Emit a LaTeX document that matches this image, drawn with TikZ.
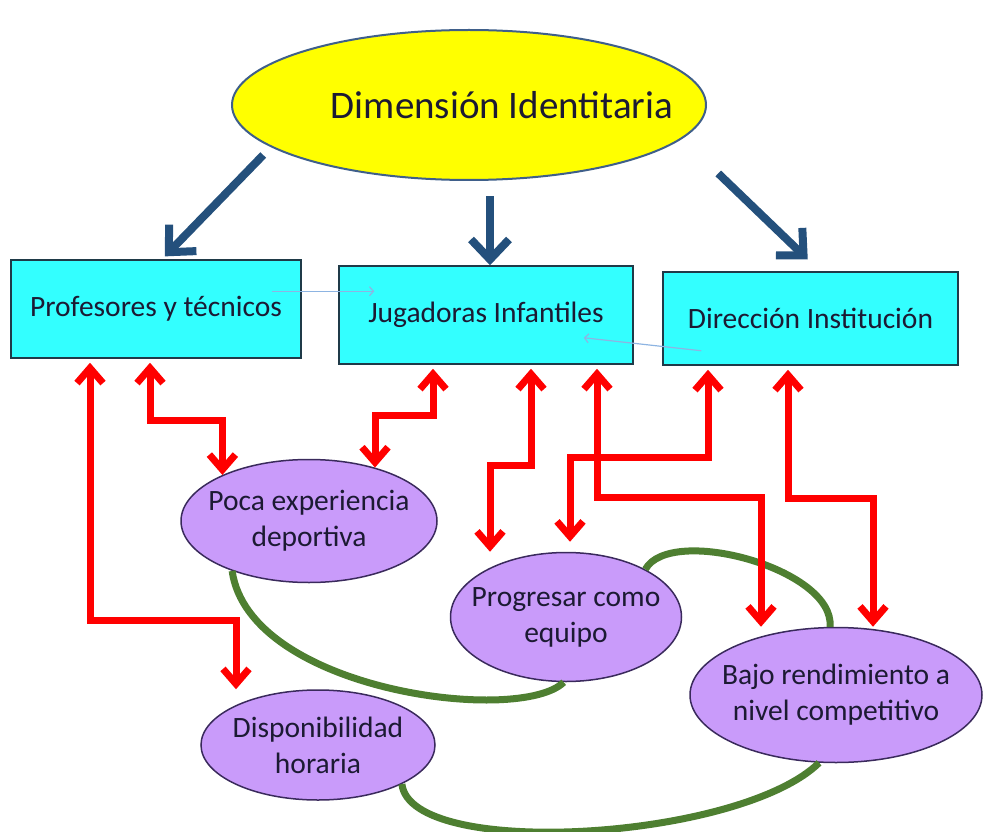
\documentclass[tikz,border=0pt]{standalone}
\usepackage{fontspec}
\setmainfont{Carlito}
\usetikzlibrary{shapes.geometric,arrows.meta}
\definecolor{ink}{HTML}{1C1A33}
\definecolor{sun}{HTML}{FFFF00}
\definecolor{sunline}{HTML}{3F5F8A}
\definecolor{aqua}{HTML}{33FFFF}
\definecolor{aqualine}{HTML}{1F3A48}
\definecolor{lilac}{HTML}{C99BFA}
\definecolor{lilacline}{HTML}{3A2A5C}
\definecolor{navy}{HTML}{24507C}
\definecolor{leaf}{HTML}{4E7F31}
\definecolor{pale}{HTML}{8DB4E2}
\begin{document}
\begin{tikzpicture}[x=1pt,y=-1pt,
    flow/.style={draw=navy,line width=8pt,-{Straight Barb[length=20pt,width=38pt]}},
    link/.style={draw=red,line width=7pt,shorten <=4pt,
      {Straight Barb[length=15pt,width=26pt]}-{Straight Barb[length=15pt,width=26pt]}},
    tie/.style={draw=leaf,line width=7pt},
    hint/.style={draw=pale,line width=1.2pt,-{Straight Barb[length=4pt,width=9pt]}}]

  \useasboundingbox (0,0) rectangle (983,832);

  \node[ellipse,draw=sunline,line width=2pt,fill=sun,text=ink,inner sep=-40pt,
        minimum width=474pt,minimum height=150pt,font=\fontsize{39}{47}\selectfont]
        (dim) at (469,105) {\hspace*{66pt}Dimensión Identitaria};

  \begin{scope}[every node/.style={rectangle,draw=aqualine,line width=1.5pt,fill=aqua,text=ink,
      font=\fontsize{29.5}{36}\selectfont}]
    \node[minimum width=290pt,minimum height=98pt] (prof) at (156,309)   {Profesores y técnicos};
    \node[minimum width=294pt,minimum height=98pt] (jug)  at (486,315)   {Jugadoras Infantiles};
    \node[minimum width=295pt,minimum height=93pt] (dir)  at (810.5,318.5) {Dirección Institución};
  \end{scope}

  \begin{scope}[every node/.style={ellipse,draw=lilacline,line width=1.5pt,fill=lilac,text=ink,
      inner sep=-40pt,align=center,font=\fontsize{29.5}{36}\selectfont}]
    \node[minimum width=256pt,minimum height=123pt] (poca) at (309,521) {Poca experiencia\\deportiva};
    \node[minimum width=231pt,minimum height=129pt] (prog) at (566,617) {Progresar como\\equipo};
    \node[minimum width=292pt,minimum height=135pt] (bajo) at (836,695) {Bajo rendimiento a\\nivel competitivo};
    \node[minimum width=234pt,minimum height=110pt] (disp) at (318,745) {Disponibilidad\\horaria};
  \end{scope}

  % ties between the problems
  \draw[tie] (poca.213) .. controls +(17,120) and +(-44,43) .. (prog.268);
  \draw[tie] (prog.31) .. controls +(25,-45) and +(5,-58) .. (bajo.95);
  \draw[tie] (disp.335) .. controls +(9,76) and +(-80,78) .. (bajo.256);

  % actors and problems
  \draw[link] (90,0 |- prof.south) |- (236,620) -- (disp.north -| 236,0);
  \draw[link] (150,0 |- prof.south) -- (150,420) -| (poca.152);
  \draw[link] (433,0 |- jug.south) -- (433,415) -| (poca.39);
  \draw[link] (531,0 |- jug.south) -- (531,465) -| (prog.north -| 490,0);
  \draw[link,shorten >=10pt] (708,0 |- dir.south) -- (708,457) -| (prog.north -| 570,0);
  \draw[link] (597,0 |- jug.south) -- (597,497) -| (bajo.north -| 761,0);
  \draw[link] (788,0 |- dir.south) -- (788,498) -| (bajo.north -| 873,0);

  % identity dimension
  \draw[flow,shorten <=11pt,shorten >=4pt] (dim.192) -- (prof.north -| 162,0);
  \draw[flow,shorten <=15pt] (dim.south -| 490,0) -- (jug.north -| 490,0);
  \draw[flow,shorten <=50pt,shorten >=17pt] (dim.351) -- (dir.north -| 820,0);

  \draw[hint] ([shift={(-30,32)}]prof.north east) -- ([shift={(36,26)}]jug.north west);
  \draw[hint] ([shift={(39,-15)}]dir.south west) -- ([shift={(-50,-27)}]jug.south east);

\end{tikzpicture}
\end{document}
